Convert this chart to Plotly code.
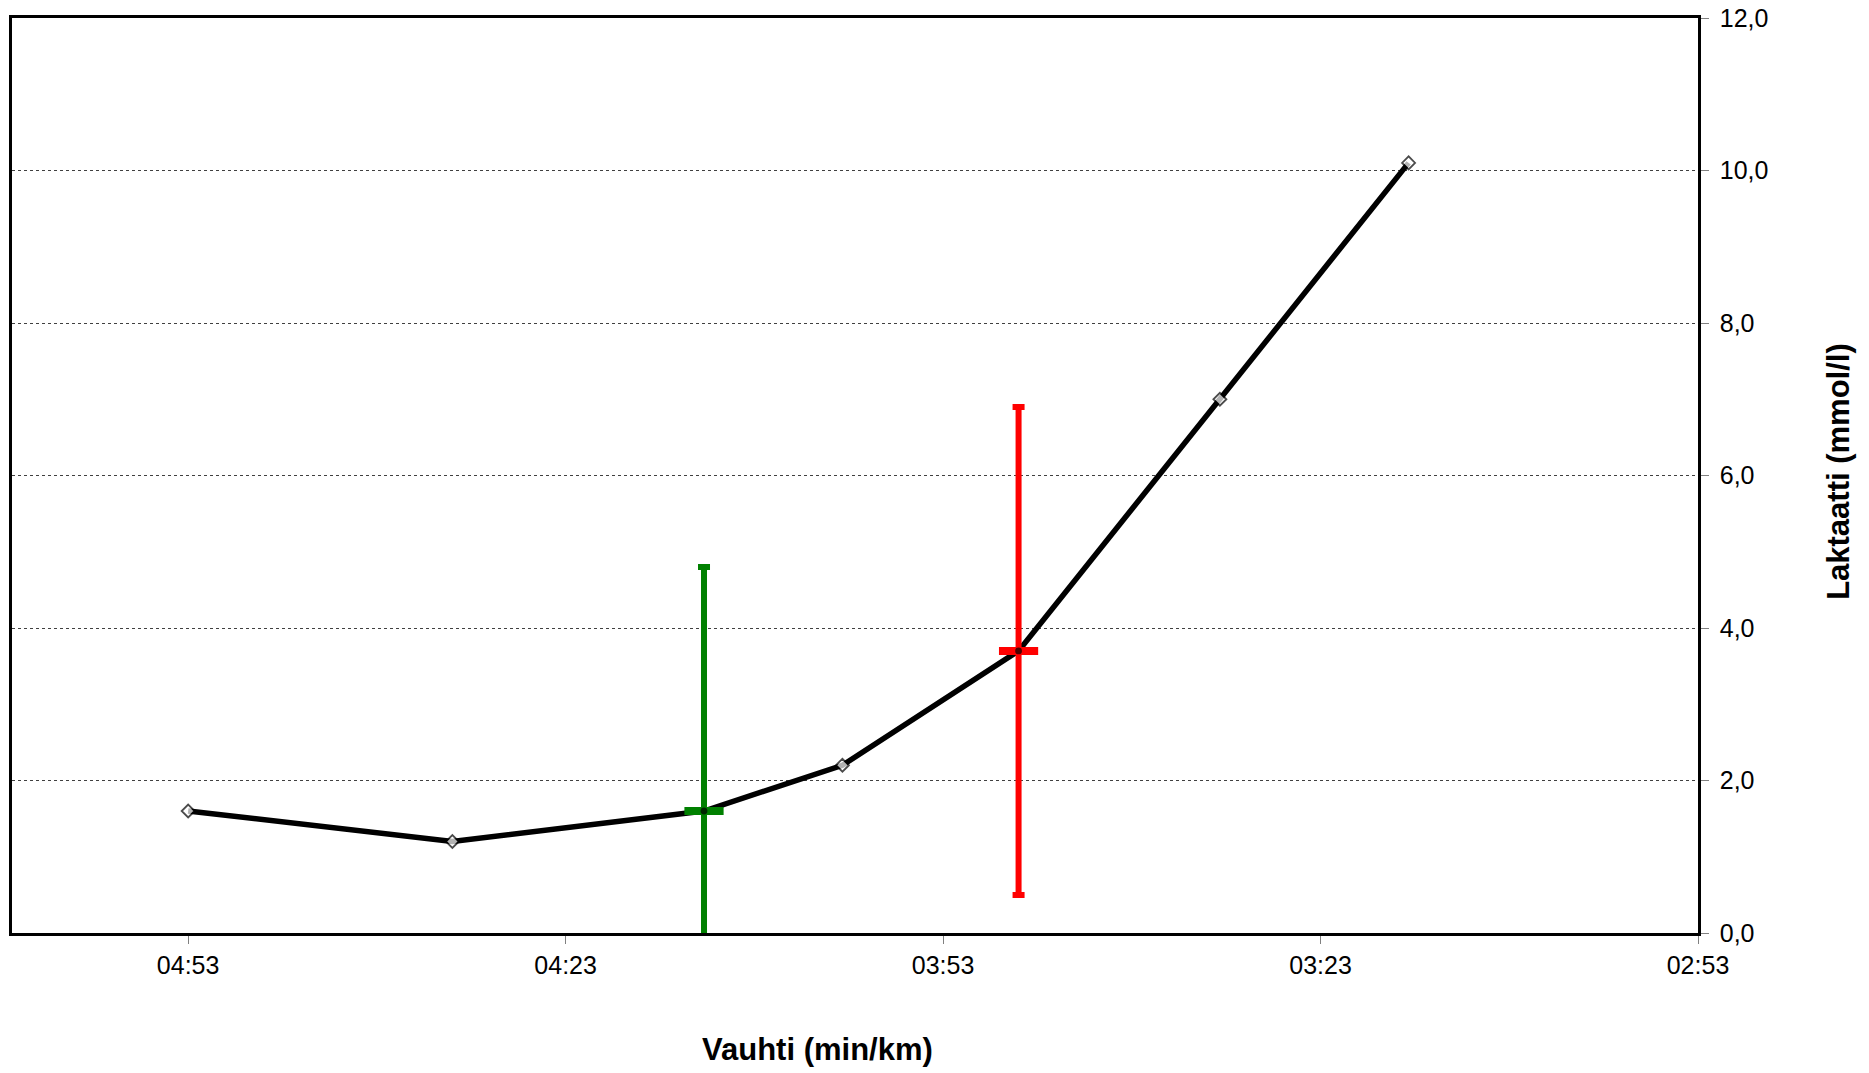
import plotly.graph_objects as go

# ---- data ----
pace = ["4:53", "4:32", "4:12", "4:01", "3:47", "3:31", "3:16"]
lactate = [1.6, 1.2, 1.6, 2.2, 3.7, 7.0, 10.1]

# threshold markers (pace, lactate, +/- error)
thr_pace = ["4:12", "3:47"]
thr_lactate = [1.6, 3.7]
thr_error = [3.2, 3.2]
thr_colors = ["#008000", "#FF0000"]

tick_labels = ["04:53", "04:23", "03:53", "03:23", "02:53"]
y_ticks = [0, 2, 4, 6, 8, 10, 12]


def to_sec(s):
    m, sec = s.split(":")
    return int(m) * 60 + int(sec)


x = [to_sec(p) for p in pace]
thr_x = [to_sec(p) for p in thr_pace]
tick_vals = [to_sec(t) for t in tick_labels]

fig = go.Figure()

# main line (line only)
fig.add_trace(go.Scatter(
    x=x, y=lactate, mode="lines",
    line=dict(color="black", width=5.5),
    showlegend=False, hoverinfo="skip",
))

# threshold error bars
for tx, ty, te, col in zip(thr_x, thr_lactate, thr_error, thr_colors):
    fig.add_trace(go.Scatter(
        x=[tx], y=[ty], mode="markers",
        marker=dict(symbol="line-ew", size=28, line=dict(color=col, width=8), color=col),
        error_y=dict(type="data", array=[te], visible=True, color=col, thickness=6, width=6),
        showlegend=False,
    ))

# markers on top
is_thr = [xi in thr_x for xi in x]
fig.add_trace(go.Scatter(
    x=x, y=lactate, mode="markers",
    marker=dict(
        symbol=["circle" if t else "diamond" for t in is_thr],
        size=[5 if t else 10 for t in is_thr],
        color=["black" if t else "white" for t in is_thr],
        line=dict(color="black", width=1.8),
    ),
    showlegend=False,
))

font_family = "Liberation Sans, Arial, sans-serif"

fig.update_layout(
    width=1869, height=1073,
    margin=dict(l=12, r=171, t=18, b=140, autoexpand=False),
    paper_bgcolor="white", plot_bgcolor="white",
    separators=", ",
    font=dict(family=font_family, color="black", size=25),
    xaxis=dict(
        range=[307, 173],
        tickvals=tick_vals, ticktext=tick_labels,
        ticks="outside", ticklen=8, tickcolor="#808080", tickwidth=1,
        showline=True, linecolor="black", linewidth=2.5, mirror=True,
        showgrid=False, zeroline=False,
        tickfont=dict(size=25),
        ticklabeloverflow="allow",
        automargin=False,
    ),
    yaxis=dict(
        side="right",
        range=[0, 12], tickvals=y_ticks, tickformat=".1f",
        ticks="outside", ticklen=8, tickcolor="#808080", tickwidth=1,
        showline=True, linecolor="black", linewidth=2.5, mirror=True,
        showgrid=True, gridcolor="#404040", gridwidth=1, griddash="dot",
        zeroline=False,
        tickfont=dict(size=25),
        ticklabelstandoff=6,
        ticklabeloverflow="allow",
        automargin=False,
    ),
    annotations=[
        dict(text="<b>Vauhti (min/km)</b>", xref="paper", yref="paper",
             x=0.478, y=-0.1268, xanchor="center", yanchor="middle",
             showarrow=False, font=dict(size=31, family=font_family)),
        dict(text="<b>Laktaatti (mmol/l)</b>", xref="paper", yref="paper",
             x=1.0836, y=0.505, xanchor="center", yanchor="middle", textangle=-90,
             showarrow=False, font=dict(size=31, family=font_family)),
    ],
)

fig.write_html("out.html", config={"displayModeBar": False},
               post_script="document.body.style.margin='0px';")
